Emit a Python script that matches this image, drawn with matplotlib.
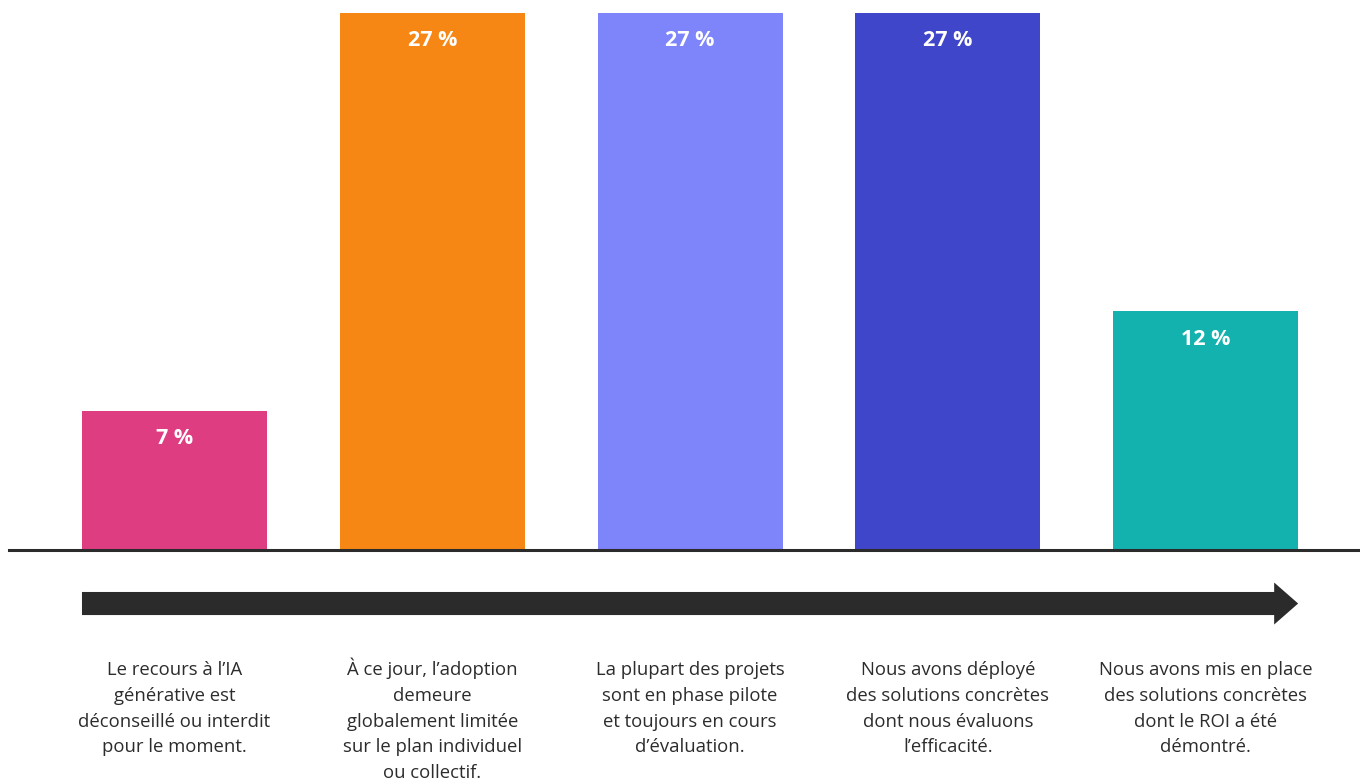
import matplotlib
matplotlib.use("Agg")
import matplotlib.pyplot as plt
from matplotlib.patches import FancyArrow

plt.rcParams['font.family'] = ['Open Sans', 'DejaVu Sans']

values = [7, 27, 27, 27, 12]
value_labels = ['7 %', '27 %', '27 %', '27 %', '12 %']
colors = ['#DE3D82', '#F68714', '#7E84FA', '#4046CA', '#13B2AF']
labels = [
    "Le recours à l’IA\ngénérative est\ndéconseillé ou interdit\npour le moment.",
    "À ce jour, l’adoption\ndemeure\nglobalement limitée\nsur le plan individuel\nou collectif.",
    "La plupart des projets\nsont en phase pilote\net toujours en cours\nd’évaluation.",
    "Nous avons déployé\ndes solutions concrètes\ndont nous évaluons\nl’efficacité.",
    "Nous avons mis en place\ndes solutions concrètes\ndont le ROI a été\ndémontré.",
]

fig = plt.figure(figsize=(13.6, 7.82), dpi=100)
ax = fig.add_axes([0, 0, 1, 1])
ax.axis('off')

x = list(range(len(values)))
width = 0.718
ax.bar(x, values, width=width, color=colors, zorder=2)

ax.set_xlim(-0.677, 4.599)
ax.set_ylim(-11.66, 27.64)

# baseline
ax.axhline(0, xmin=9 / 1360, xmax=1, color='#2b2b2b', lw=2.2, zorder=3)

# value labels inside bars
for xi, v, t in zip(x, values, value_labels):
    ax.text(xi, v - 1.4, t, ha='center', va='center', color='white',
            fontsize=15.5, fontweight='bold')

# progression arrow
x0 = x[0] - width / 2
x1 = x[-1] + width / 2
ax.add_patch(FancyArrow(x0, -2.69, x1 - x0, 0, width=1.16, head_width=2.11,
                        head_length=0.093, length_includes_head=True,
                        color='#2b2b2b', lw=0))

# descriptions, one line at a time so spacing is even
first_baseline = -6.28
pitch = 1.296
for xi, t in zip(x, labels):
    for i, line in enumerate(t.split('\n')):
        ax.text(xi, first_baseline - i * pitch, line, ha='center',
                va='baseline', color='#2c2c2c', fontsize=13.3)

fig.savefig('out.png', dpi=100)
